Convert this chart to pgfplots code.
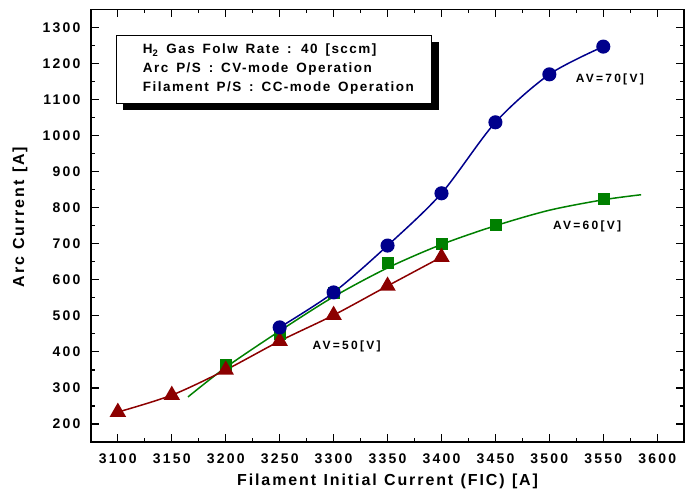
\documentclass[border=0pt]{standalone}
\usepackage{fontspec}
\setmainfont{Liberation Sans}[LetterSpace=12, WordSpace=1.15, BoldFeatures={LetterSpace=12, WordSpace=1.15}]
\newfontfamily\tickfont{Liberation Sans}[LetterSpace=16, BoldFeatures={LetterSpace=16}]
\newfontfamily\avfont{Liberation Sans}[LetterSpace=19, BoldFeatures={LetterSpace=19}]
\newfontfamily\boxfont{Liberation Sans}[LetterSpace=11, WordSpace=1.5, BoldFeatures={LetterSpace=11, WordSpace=1.5}]
\usepackage{pgfplots}
\pgfplotsset{compat=1.18}
\usetikzlibrary{shadows}
\definecolor{cblue}{RGB}{0,0,140}
\definecolor{cgreen}{RGB}{0,128,0}
\definecolor{cred}{RGB}{140,0,0}
\begin{document}
\begin{tikzpicture}
\begin{axis}[
  scale only axis,
  width=594pt, height=433pt,
  xmin=3075, xmax=3625, ymin=150, ymax=1350,
  xtick={3100,3150,3200,3250,3300,3350,3400,3450,3500,3550,3600},
  xticklabels={3100,3150,3200,3250,3300,3350,3400,3450,3500,3550,3600},
  ytick={200,300,400,500,600,700,800,900,1000,1100,1200,1300},
  yticklabels={200,300,400,500,600,700,800,900,1000,1100,1200,1300},
  minor x tick num=1, minor y tick num=1,
  tick align=inside,
  major tick length=8pt, minor tick length=4pt,
  axis line style={line width=1.6pt},
  every tick/.style={line width=1.2pt, black},
  tick label style={font=\tickfont\fontsize{14}{16}\selectfont\bfseries},
  xticklabel style={yshift=-8pt},
  yticklabel style={xshift=-7pt},
  xlabel={Filament Initial Current (FIC) [A]},
  ylabel={Arc Current [A]},
  label style={font=\fontsize{16}{18}\selectfont\bfseries},
  xlabel style={at={(rel axis cs:0.5,-0.09)}, anchor=center},
  ylabel style={at={(rel axis cs:-0.1195,0.52)}, anchor=center},
  clip=false,
]
% AV=60 fitted line
\addplot[cgreen, line width=1.5pt, smooth] coordinates {
 (3165,275) (3200,357) (3250,458) (3300,553) (3350,633) (3400,698) (3450,750) (3500,793) (3550,822) (3585,836)};
\addplot[cgreen, only marks, mark=square*, mark size=5.6pt] coordinates {
 (3200,365) (3250,452) (3300,565) (3350,648) (3400,700) (3450,753) (3550,826)};
% AV=50
\addplot[cred, line width=1.5pt, smooth, mark=triangle*, mark size=8pt, mark options={solid}] coordinates {
 (3100,233) (3150,280) (3200,350) (3250,430) (3300,502) (3350,583) (3400,663)};
% AV=70
\addplot[cblue, line width=1.5pt, smooth, mark=*, mark size=6.3pt] coordinates {
 (3250,468) (3300,565) (3350,695) (3400,840) (3450,1037) (3500,1170) (3550,1247)};
\node[font=\avfont\fontsize{12}{13}\selectfont\bfseries] at (axis cs:3556,1157) {AV=70[V]};
\node[font=\avfont\fontsize{12}{13}\selectfont\bfseries] at (axis cs:3535,747) {AV=60[V]};
\node[font=\avfont\fontsize{12}{13}\selectfont\bfseries] at (axis cs:3312,414) {AV=50[V]};
\node[draw, line width=0.8pt, fill=white, anchor=north west, inner sep=0pt,
  minimum width=316pt, minimum height=68pt,
  drop shadow={shadow xshift=7pt, shadow yshift=-7pt, fill=black, opacity=1}]
  (tbox) at (rel axis cs:0.042,0.941) {};
\node[anchor=west, inner sep=0pt, align=left,
  font=\boxfont\fontsize{13.5}{19}\selectfont\bfseries]
  at ([xshift=27pt]tbox.west) {H\textsubscript{2} Gas Folw Rate : 40 [sccm]\\Arc P/S : CV-mode Operation\\Filament P/S : CC-mode Operation};
\path (rel axis cs:0,0) ++(-91pt,-60pt) (rel axis cs:1,1) ++(0.8pt,9.5pt);
\end{axis}
\end{tikzpicture}
\end{document}
